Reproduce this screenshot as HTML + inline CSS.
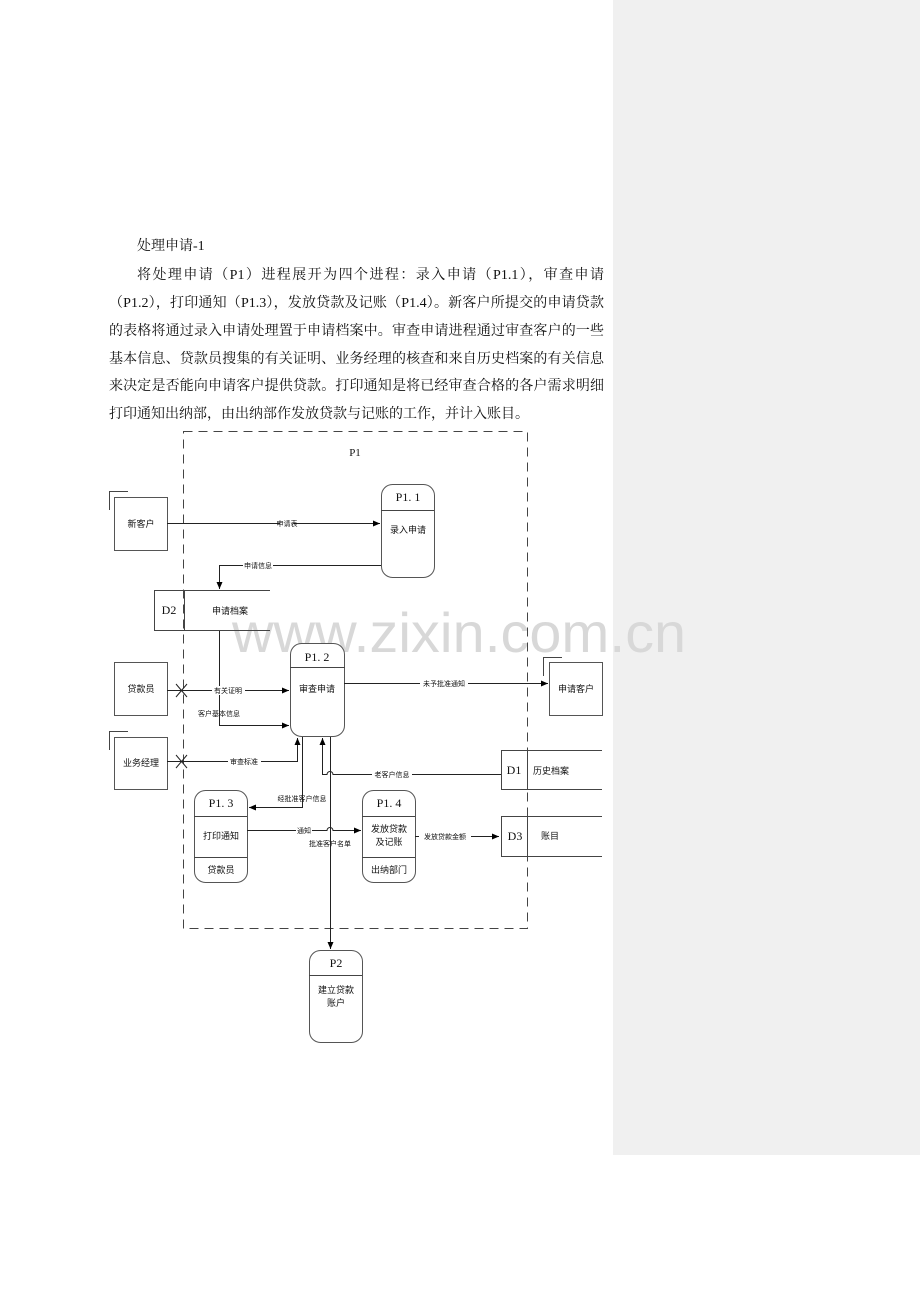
<!DOCTYPE html>
<html><head><meta charset="utf-8"><style>
body{margin:0;width:920px;height:1302px;background:#fff;position:relative;overflow:hidden;font-family:"Liberation Serif","Noto Serif CJK SC",serif}
.gray{position:absolute;left:613px;top:0;width:307px;height:1155px;background:#f0f0f0}
.ln{position:absolute;left:109px;width:495px;font-size:14px;line-height:20px;color:#111;text-align:justify;text-align-last:justify;overflow:visible}
svg{position:absolute;left:0;top:0}
svg text{font-family:"Liberation Sans","Noto Sans CJK SC",sans-serif;fill:#111}
.m{font-family:"Liberation Serif","Noto Serif CJK SC",serif!important}
</style></head><body>
<div class="gray"></div>
<div class="ln" style="left:137px;top:237px;text-align-last:left;width:200px">处理申请-1</div>
<div class="ln" style="left:137px;width:467px;top:266px">将处理申请（P1）进程展开为四个进程：录入申请（P1.1），审查申请</div>
<div class="ln" style="top:294px">（P1.2），打印通知（P1.3），发放贷款及记账（P1.4）。新客户所提交的申请贷款</div>
<div class="ln" style="top:322px">的表格将通过录入申请处理置于申请档案中。审查申请进程通过审查客户的一些</div>
<div class="ln" style="top:350px">基本信息、贷款员搜集的有关证明、业务经理的核查和来自历史档案的有关信息</div>
<div class="ln" style="top:377px">来决定是否能向申请客户提供贷款。打印通知是将已经审查合格的各户需求明细</div>
<div class="ln" style="top:405px;text-align-last:left">打印通知出纳部，由出纳部作发放贷款与记账的工作，并计入账目。</div>
<svg width="920" height="1302" viewBox="0 0 920 1302">
<defs><marker id="a" markerWidth="8" markerHeight="8" refX="7" refY="3" orient="auto" markerUnits="userSpaceOnUse"><path d="M0,0 L7,3 L0,6z" fill="#000"/></marker></defs>
<text x="232" y="652" font-size="56" style="fill:#d8d8d8" textLength="454" lengthAdjust="spacingAndGlyphs">www.zixin.com.cn</text>
<rect x="183.5" y="431.5" width="344" height="497" fill="none" stroke="#444" stroke-dasharray="9,6"/>
<text x="355" y="456" font-size="11" class="m" text-anchor="middle">P1</text>
<g fill="#fff" stroke="#555" stroke-width="1">
<rect x="114.5" y="497.5" width="53" height="53"/><rect x="114.5" y="662.5" width="53" height="53"/><rect x="114.5" y="737.5" width="53" height="52"/><rect x="549.5" y="662.5" width="53" height="53"/>
<rect x="381.5" y="484.5" width="53" height="93" rx="11"/><rect x="290.5" y="643.5" width="54" height="93" rx="11"/>
<rect x="194.5" y="790.5" width="53" height="92" rx="11"/><rect x="362.5" y="790.5" width="53" height="92" rx="11"/>
<rect x="309.5" y="950.5" width="53" height="92" rx="11"/>
</g>
<g fill="none" stroke="#444">
<path d="M109.5,510 V491.5 H128 M543.5,676 V657.5 H562"/>
<path d="M109.5,750 V731.5 H128"/>
<path d="M270,590.5 H154.5 V630.5 H270 M184.5,590 V631"/>
<path d="M602,750.5 H501.5 V789.5 H602 M602,816.5 H501.5 V856.5 H602 M527.5,750 V790 M527.5,816 V857"/>
<path d="M381,510.5 H434 M290,667.5 H345 M194,816.5 H247 M194,857.5 H247 M362,816.5 H415 M362,857.5 H415 M309,975.5 H362"/>
</g>
<g fill="none" stroke="#222" stroke-width="1">
<path d="M167,523.5 H380" marker-end="url(#a)"/>
<path d="M381,565.5 H219.5 V589" marker-end="url(#a)"/>
<path d="M219.5,631 V725.5 H289" marker-end="url(#a)"/>
<path d="M167,690.5 H289" marker-end="url(#a)"/>
<path d="M344,683.5 H548" marker-end="url(#a)"/>
<path d="M167,761.5 H297.5 V738" marker-end="url(#a)"/>
<path d="M501,774.5 H333 A3,3 0 0 0 327,774.5 H322.5 V738" marker-end="url(#a)"/>
<path d="M302.5,737 V807.5 H249" marker-end="url(#a)"/>
<path d="M247,830.5 H327 A3,3 0 0 1 333,830.5 H361" marker-end="url(#a)"/>
<path d="M330.5,737 V949" marker-end="url(#a)"/>
<path d="M415,836.5 H499" marker-end="url(#a)"/>
<path d="M176,684 L187,697 M187,684 L176,697 M176,755 L187,768 M187,755 L176,768"/>
</g>
<g font-size="7" text-anchor="middle">
<rect x="280" y="519" width="14" height="9" fill="#fff"/><text x="287" y="526">申请表</text>
<rect x="243" y="561" width="30" height="9" fill="#fff"/><text x="258" y="568">申请信息</text>
<rect x="212" y="686" width="33" height="9" fill="#fff"/><text x="228" y="693">有关证明</text>
<text x="219" y="716">客户基本信息</text>
<rect x="420" y="679" width="48" height="9" fill="#fff"/><text x="444" y="686">未予批准通知</text>
<rect x="228" y="757" width="33" height="9" fill="#fff"/><text x="244" y="764">审查标准</text>
<rect x="372" y="770" width="40" height="9" fill="#fff"/><text x="392" y="777">老客户信息</text>
<text x="302" y="801">经批准客户信息</text>
<rect x="296" y="826" width="16" height="9" fill="#fff"/><text x="304" y="833">通知</text>
<text x="330" y="846">批准客户名单</text>
<rect x="419" y="832" width="52" height="9" fill="#fff"/><text x="445" y="839">发放贷款金额</text>
</g>
<g font-size="9" text-anchor="middle">
<text x="141" y="527">新客户</text><text x="141" y="692">贷款员</text><text x="141" y="766">业务经理</text><text x="576" y="692">申请客户</text>
<text x="408" y="533">录入申请</text><text x="317" y="692">审查申请</text>
<text x="221" y="839">打印通知</text><text x="221" y="873">贷款员</text>
<text x="389" y="832">发放贷款</text><text x="389" y="845">及记账</text><text x="389" y="873">出纳部门</text>
<text x="336" y="993">建立贷款</text><text x="336" y="1006">账户</text>
<text x="212" y="614" text-anchor="start">申请档案</text>
<text x="533" y="774" text-anchor="start">历史档案</text><text x="550" y="839">账目</text>
</g>
<g font-size="12" text-anchor="middle">
<text x="408" y="501" class="m">P1. 1</text><text x="317" y="661" class="m">P1. 2</text><text x="221" y="807" class="m">P1. 3</text><text x="389" y="807" class="m">P1. 4</text><text x="336" y="967" class="m">P2</text>
<text x="169" y="614" class="m">D2</text><text x="514" y="774" class="m">D1</text><text x="515" y="840" class="m">D3</text>
</g>
</svg>
</body></html>
